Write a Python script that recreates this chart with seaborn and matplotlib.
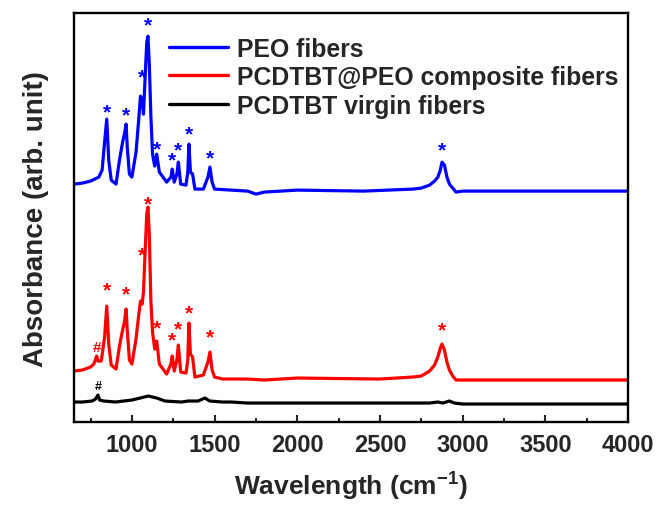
import matplotlib
matplotlib.use("Agg")
import matplotlib.pyplot as plt
from matplotlib.ticker import MultipleLocator
import seaborn as sns

# spectra: wavenumber (cm-1) and absorbance (arb. unit, offset)
peo_wn = [650, 700, 750, 800, 820, 835, 848, 860, 875, 904, 925, 945, 955, 965,
          972, 985, 1000, 1025, 1040, 1052, 1062, 1070, 1080, 1090, 1097, 1105,
          1115, 1125, 1138, 1150, 1166, 1210, 1236, 1244, 1256, 1272, 1281, 1295,
          1327, 1338, 1345, 1354, 1367, 1381, 1432, 1460, 1472, 1485, 1500, 1600,
          1700, 1750, 1800, 2000, 2400, 2700, 2750, 2800, 2830, 2850, 2865, 2875,
          2890, 2905, 2920, 2940, 2960, 3000, 3500, 4000]
peo_abs = [238, 239, 241, 245, 252, 280, 303, 262, 242, 238, 262, 281, 288, 298,
           275, 248, 245, 270, 300, 326, 322, 308, 345, 380, 386, 360,
           305, 268, 256, 268, 250, 240, 245, 253, 240, 248, 260, 238,
           237, 250, 278, 250, 248, 233, 233, 245, 255, 240, 233, 232,
           231, 228, 230, 232, 231, 233, 234, 237, 241, 245, 252, 260,
           257, 245, 238, 234, 230, 231, 231, 231]

comp_wn = [650, 700, 750, 770, 787, 795, 815, 835, 848, 860, 875, 904, 925, 945,
           955, 965, 972, 985, 1000, 1025, 1040, 1052, 1062, 1070, 1080, 1090,
           1097, 1105, 1115, 1125, 1138, 1150, 1166, 1210, 1236, 1244, 1256, 1272,
           1281, 1295, 1327, 1338, 1345, 1354, 1367, 1381, 1432, 1460, 1472, 1485,
           1500, 1550, 1700, 1800, 2000, 2500, 2700, 2750, 2800, 2830, 2850, 2865,
           2875, 2890, 2905, 2920, 2940, 2960, 3000, 3500, 4000]
comp_abs = [51, 52, 55, 58, 66, 61, 61, 85, 116, 78, 57, 53, 76, 93,
            100, 113, 92, 62, 58, 83, 105, 121, 118, 130, 170, 208,
            215, 190, 120, 90, 73, 81, 58, 48, 58, 66, 51, 62,
            77, 50, 49, 62, 99, 68, 65, 45, 47, 60, 70, 52,
            45, 43, 43, 42, 44, 43, 45, 46, 51, 57, 65, 74,
            78, 72, 60, 52, 46, 42, 42, 42, 42]

virgin_wn = [650, 700, 760, 780, 795, 805, 830, 900, 1000, 1050, 1100, 1150, 1200,
             1300, 1340, 1400, 1442, 1470, 1550, 1600, 1700, 2000, 2500, 2800,
             2850, 2880, 2920, 2950, 3000, 4000]
virgin_abs = [20, 20, 21, 23, 27, 22, 21, 20, 22, 24, 26, 24, 21,
              20, 21, 21, 24, 21, 20, 20, 19, 19, 19, 19,
              20, 19, 21, 19, 18, 18]

labels = ["PEO fibers", "PCDTBT@PEO composite fibers", "PCDTBT virgin fibers"]
colors = ["#0000FF", "#FF0000", "#000000"]

# peak markers: (wavenumber, height)
peo_star_wn = [848, 965, 1059, 1099, 1150, 1244, 1281, 1345, 1472, 2875]
peo_star_y = [313, 310, 348, 400, 276, 265, 275, 291, 267, 275]
comp_star_wn = [848, 965, 1059, 1099, 1150, 1244, 1281, 1345, 1472, 2875]
comp_star_y = [135, 131, 170, 221, 97, 85, 96, 112, 88, 95]
comp_hash = (787, 75)
virgin_hash = (795, 36)

sns.set_theme(style="white")
plt.rcParams["font.family"] = ["Liberation Sans", "DejaVu Sans"]
plt.rcParams["font.weight"] = "bold"
plt.rcParams["mathtext.fontset"] = "custom"
plt.rcParams["mathtext.rm"] = "Liberation Sans:bold"
plt.rcParams["mathtext.bf"] = "Liberation Sans:bold"
plt.rcParams["mathtext.default"] = "bf"

fig = plt.figure(figsize=(6.59, 5.06), dpi=100)
ax = fig.add_axes([0.1123, 0.164, 0.8407, 0.808])

for wn, ab, lab, col in zip([peo_wn, comp_wn, virgin_wn],
                            [peo_abs, comp_abs, virgin_abs], labels, colors):
    sns.lineplot(x=wn, y=ab, ax=ax, color=col, lw=2.3, label=lab)

for x, y in zip(peo_star_wn, peo_star_y):
    ax.text(x, y - 3, "*", color=colors[0], fontsize=15, ha="center", va="center")
for x, y in zip(comp_star_wn, comp_star_y):
    ax.text(x, y - 3, "*", color=colors[1], fontsize=15, ha="center", va="center")
ax.text(*comp_hash, "#", color=colors[1], fontsize=11, ha="center", va="center")
ax.text(*virgin_hash, "#", color=colors[2], fontsize=9, ha="center", va="center")

ax.set_xlim(650, 4000)
ax.set_ylim(0, 409)
ax.set_yticks([])
ax.xaxis.set_major_locator(MultipleLocator(500))
ax.xaxis.set_minor_locator(MultipleLocator(250))
ax.tick_params(axis="x", which="major", direction="in", length=5, width=1.5,
               labelsize=17, pad=8, bottom=True)
ax.tick_params(axis="x", which="minor", direction="in", length=3, width=1.5,
               bottom=True)
for lbl in ax.get_xticklabels():
    lbl.set_fontweight("bold")
for s in ax.spines.values():
    s.set_linewidth(1.7)
    s.set_color("black")

ax.set_xlabel("Wavelength (cm$^{-1}$)", fontsize=19, fontweight="bold", labelpad=10)
ax.set_ylabel("Absorbance (arb. unit)", fontsize=20, fontweight="bold", labelpad=18)

leg = ax.legend(loc="upper left", bbox_to_anchor=(0.14, 0.985), frameon=False,
                handlelength=2.4, labelspacing=0.18, borderaxespad=0.3,
                handletextpad=0.35, prop={"weight": "bold", "size": 17.8})
for line in leg.get_lines():
    line.set_linewidth(2.4)

fig.savefig("out.png", dpi=100)
